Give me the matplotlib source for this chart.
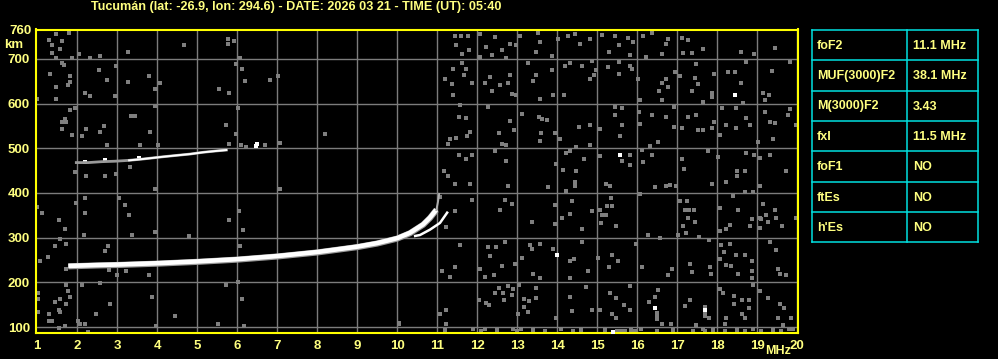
import matplotlib
matplotlib.use("Agg")
import matplotlib.pyplot as plt

TXT = "#ffff80"
FRAME = "#ffff00"
CYAN = "#00e0e0"
GRID = "#7c7c7c"
plt.rcParams['font.family'] = ['Liberation Sans', 'DejaVu Sans']

title = "Tucumán (lat: -26.9, lon: 294.6) - DATE: 2026 03 21 - TIME (UT): 05:40"

# ordinary (O) trace of the F2 layer, MHz / km
o_mhz = [1.78, 2.5, 3.0, 4.0, 5.0, 6.0, 7.0, 8.0, 9.0, 9.5, 10.0, 10.32, 10.65, 10.82, 10.98]
o_km = [236, 238, 239, 242, 246, 251, 258, 267, 279, 287, 298, 310, 329, 344, 362]
o_tail_mhz = [10.98, 11.02, 11.05]
o_tail_km = [362, 380, 398]
# extraordinary (X) branch
x_mhz = [10.45, 10.57, 10.82, 11.07, 11.25]
x_km = [304, 306, 318, 333, 356]
# second hop echo
h2_mhz = [1.98, 2.28, 2.61, 2.94, 3.3, 3.65, 4.15, 4.48, 4.82, 5.15, 5.48, 5.73]
h2_km = [468, 468, 470, 471, 473, 476, 481, 484, 487, 491, 494, 496]

# scattered interference dots (MHz, km)
noise_pts = [
    (11.44, 752), (11.6, 752), (11.77, 752), (12.08, 756), (12.44, 749), (11.48, 730),
    (11.63, 711), (11.8, 719), (12.08, 704), (12.23, 726), (12.38, 709), (12.63, 720),
    (12.83, 734), (12.98, 731), (12.73, 702), (13.08, 752), (13.53, 758), (13.58, 737),
    (13.48, 715), (13.86, 707), (14.03, 745), (14.28, 752), (14.44, 756), (14.58, 734),
    (14.83, 745), (15.13, 754), (15.44, 752), (15.54, 730), (15.29, 716), (15.78, 747),
    (15.9, 737), (15.83, 709), (16.15, 752), (16.38, 758), (16.78, 745), (16.73, 734),
    (16.63, 711), (16.23, 704), (17.13, 746), (17.28, 741), (17.15, 713), (17.38, 713),
    (17.65, 721), (18.6, 716), (18.93, 711), (19.44, 725),
    (11.63, 690), (11.4, 678), (11.19, 655), (11.36, 644), (11.68, 663), (11.87, 646),
    (11.4, 620), (11.73, 678), (12.19, 646), (12.33, 659), (12.38, 629), (12.58, 642),
    (12.78, 646), (12.83, 664), (12.88, 622), (12.98, 620), (13.28, 690), (13.48, 664),
    (13.4, 651), (13.57, 610), (13.88, 674), (13.9, 620), (14.17, 620), (14.19, 684),
    (14.33, 690), (14.63, 685), (14.88, 696), (14.98, 674), (14.83, 655), (14.92, 664),
    (15.28, 681), (15.55, 693), (15.82, 685), (15.88, 678), (15.55, 665), (16.03, 654),
    (16.08, 607), (16.63, 646), (16.73, 655), (16.78, 637), (16.55, 629), (16.63, 607),
    (16.94, 670), (17.07, 661), (17.45, 657), (17.48, 689), (17.53, 644), (17.38, 629),
    (17.65, 604), (17.88, 624), (17.88, 614), (17.93, 665), (18.28, 670), (18.44, 670),
    (18.59, 646), (18.65, 602), (18.72, 693), (19.15, 624), (19.19, 607), (19.29, 620),
    (19.38, 672), (19.83, 693),
    (11.58, 597), (11.54, 569), (11.73, 567), (11.32, 521), (11.48, 522), (11.83, 536),
    (11.75, 527), (11.28, 510), (12.28, 593), (12.83, 562), (12.55, 534), (12.63, 510),
    (12.73, 508), (12.93, 540), (13.13, 576), (13.55, 571), (13.63, 566), (13.75, 564),
    (13.6, 534), (13.94, 534), (13.57, 517), (14.08, 521), (14.48, 502), (14.54, 548),
    (14.83, 552), (14.83, 507), (15.08, 543), (15.44, 593), (15.63, 591), (15.63, 551),
    (15.44, 575), (15.58, 528), (16.05, 580), (16.38, 575), (16.07, 554), (16.71, 571),
    (16.93, 593), (16.93, 548), (16.53, 513), (16.33, 504), (17.13, 545), (17.28, 571),
    (17.48, 574), (17.53, 540), (17.65, 540), (17.88, 545), (17.93, 558), (18.12, 591),
    (18.08, 530), (18.23, 552), (18.48, 546), (18.48, 591), (18.72, 567), (18.83, 552),
    (19.19, 581), (19.33, 558), (19.4, 521), (19.03, 515), (19.45, 556), (19.83, 587),
    (19.78, 574), (19.97, 552),
    (11.54, 484), (11.73, 476), (11.87, 485), (12.44, 494), (12.73, 472), (13.98, 465),
    (14.23, 490), (14.33, 494), (14.68, 476), (14.48, 450), (14.15, 452), (15.07, 482),
    (15.63, 472), (15.82, 484), (15.82, 463), (16.15, 470), (16.37, 484), (16.13, 495),
    (17.11, 476), (17.17, 453), (17.77, 494), (18.03, 481), (18.73, 490), (18.93, 485),
    (19.08, 478), (19.33, 485), (19.73, 450), (18.5, 450), (18.7, 450), (18.5, 437),
    (11.27, 437), (11.18, 450),
    (11.44, 420), (11.83, 420), (12.78, 416), (13.78, 413), (14.44, 425), (14.44, 416),
    (14.23, 405), (15.23, 420), (15.33, 416), (16.44, 413), (16.73, 416), (16.83, 418),
    (16.97, 416), (17.88, 420), (18.23, 424), (18.69, 403), (18.9, 403), (19.08, 416),
    (11.08, 390), (11.88, 385), (11.44, 359), (11.23, 324), (12.58, 363), (12.69, 385),
    (12.88, 376), (13.38, 336), (13.94, 373), (13.94, 331), (14.38, 381), (14.33, 353),
    (14.13, 344), (14.63, 319), (14.88, 359), (15.08, 363), (15.11, 351), (15.25, 372),
    (15.36, 372), (15.34, 388), (15.23, 350), (15.09, 333), (15.48, 327), (16.07, 398),
    (16.28, 305), (16.58, 299), (17.08, 381), (17.25, 383), (17.19, 363), (17.3, 363),
    (17.42, 363), (17.28, 344), (17.45, 336), (17.15, 326), (17.23, 311), (17.03, 305),
    (17.55, 301), (17.8, 296), (18.08, 366), (18.08, 314), (18.23, 319), (18.33, 329),
    (18.53, 363), (18.4, 393), (18.86, 341), (18.82, 326), (19.07, 321), (19.15, 376),
    (19.23, 350), (19.28, 336), (19.44, 363), (19.48, 344), (19.63, 327), (19.97, 344),
    (19.08, 345), (19.1, 341),
    (11.58, 283), (11.44, 235), (11.33, 213), (11.13, 225), (12.28, 279), (12.48, 279),
    (12.69, 290), (12.31, 259), (12.63, 237), (12.42, 216), (12.19, 213), (12.08, 230),
    (12.94, 242), (13.33, 283), (13.36, 274), (13.13, 255), (13.57, 287), (13.4, 220),
    (13.57, 209), (13.9, 274), (14.41, 252), (14.31, 247), (14.31, 210), (14.78, 225),
    (14.63, 290), (15.03, 255), (15.3, 235), (15.38, 261), (15.53, 247), (15.97, 287),
    (16.13, 235), (16.78, 216), (16.87, 231), (17.33, 242), (17.38, 224), (17.83, 235),
    (17.85, 220), (18.1, 283), (18.16, 268), (18.33, 287), (18.08, 252), (18.22, 238),
    (18.34, 237), (18.48, 261), (18.69, 261), (18.53, 220), (18.88, 247), (18.88, 225),
    (18.88, 209), (19.31, 290), (19.46, 272), (19.52, 230), (19.56, 220), (19.71, 216),
    (11.07, 129), (11.21, 139), (11.23, 107), (12.05, 161), (12.23, 153), (12.3, 150),
    (12.44, 176), (12.55, 187), (12.65, 176), (12.67, 161), (12.77, 191), (12.88, 172),
    (12.9, 185), (13.05, 194), (13.03, 129), (13.18, 164), (13.18, 146), (13.29, 158),
    (13.27, 134), (13.48, 165), (13.48, 187), (13.98, 120), (14.33, 168), (14.38, 136),
    (14.73, 190), (14.88, 139), (15.08, 139), (15.33, 176), (15.48, 166), (15.48, 120),
    (15.68, 150), (15.83, 193), (15.83, 139), (15.38, 129), (16.5, 131), (16.5, 125),
    (16.5, 119), (16.52, 183), (16.44, 168), (16.3, 157), (16.63, 107), (16.85, 107),
    (17.19, 148), (17.33, 161), (17.69, 146), (17.69, 130), (17.69, 124), (17.48, 106),
    (17.8, 120), (18.07, 185), (18.15, 176), (18.22, 120), (18.2, 107), (18.43, 170),
    (18.43, 151), (18.61, 161), (18.61, 129), (18.8, 161), (18.8, 142), (18.69, 120),
    (18.9, 194), (19.08, 181), (19.27, 166), (19.58, 151), (19.68, 144), (19.52, 120),
    (19.65, 106), (19.85, 120),
    (11.2, 93), (11.9, 95), (12.1, 92), (12.2, 97), (12.5, 93), (12.9, 95), (13.0, 92),
    (13.1, 97), (13.4, 93), (13.7, 92), (14.1, 95), (14.4, 92), (14.6, 94), (15.2, 93),
    (15.5, 91), (15.6, 92), (15.7, 91), (15.85, 93), (15.95, 91), (16.1, 95), (16.5, 92),
    (16.9, 94), (17.4, 92), (17.65, 97), (17.7, 91), (17.9, 93), (18.2, 92), (18.5, 94),
    (18.7, 92), (18.9, 95), (19.1, 92), (19.4, 94), (19.6, 91), (19.8, 95), (19.9, 97),
    (1.48, 756), (1.79, 758), (1.29, 743), (1.38, 730), (1.63, 739), (1.58, 721),
    (1.38, 713), (1.48, 701), (1.88, 701), (2.04, 711), (2.32, 702), (2.58, 707),
    (3.28, 716), (4.68, 731), (5.78, 744), (5.78, 734), (5.93, 739), (6.08, 701),
    (1.61, 690), (1.68, 687), (1.33, 665), (1.83, 661), (1.83, 648), (1.78, 641),
    (1.48, 637), (1.48, 611), (1.0, 611), (2.19, 624), (2.33, 616), (2.54, 674),
    (2.74, 652), (2.94, 616), (2.98, 685), (3.28, 648), (3.79, 661), (3.94, 633),
    (4.08, 647), (5.54, 633), (5.79, 624), (5.98, 689), (6.13, 678), (6.19, 650),
    (6.83, 652), (7.03, 661),
    (1.83, 585), (1.94, 589), (1.69, 565), (1.63, 558), (1.73, 558), (1.63, 544),
    (1.88, 530), (2.13, 527), (2.23, 544), (2.58, 536), (2.68, 550), (3.34, 572),
    (3.44, 572), (3.83, 536), (3.94, 594), (5.73, 553), (6.03, 589), (5.98, 531),
    (8.19, 531), (2.75, 507), (3.58, 507), (4.03, 507), (5.79, 510), (6.23, 503),
    (6.69, 507), (7.08, 512), (6.1, 508),
    (3.32, 458), (1.94, 447), (2.23, 438), (2.69, 438), (2.98, 443), (3.94, 408),
    (2.19, 388), (2.19, 356), (1.98, 378), (1.13, 356), (1.0, 368), (3.04, 388),
    (3.19, 373), (3.29, 351), (1.55, 339), (1.69, 320), (1.58, 298), (1.44, 282),
    (1.73, 285), (1.28, 256), (1.07, 249), (1.73, 230), (2.69, 271), (2.76, 282),
    (2.18, 307), (3.94, 312), (3.36, 307), (4.79, 304), (5.8, 339), (6.04, 360),
    (6.15, 317), (6.08, 282), (7.08, 408), (3.8, 216), (3.23, 225), (3.0, 216), (2.8, 227),
    (1.73, 194), (2.13, 194), (2.58, 199), (1.03, 177), (1.03, 162), (1.58, 162),
    (1.78, 181), (1.83, 168), (1.44, 157), (1.73, 152), (1.55, 139), (1.58, 135),
    (1.03, 135), (1.29, 130), (1.29, 113), (1.38, 113), (1.69, 103), (1.54, 98),
    (2.03, 113), (2.08, 107), (2.19, 107), (2.48, 130), (2.83, 152), (2.28, 90),
    (3.88, 168), (4.44, 125), (3.98, 103), (5.73, 194), (6.02, 202), (6.13, 162),
    (6.18, 103), (5.53, 107), (10.05, 110), (10.05, 107),
]
bright_pts = [(18.44, 619), (15.58, 485), (14.0, 261), (16.44, 142), (17.69, 138),
              (6.47, 505), (6.49, 509), (15.4, 90), (2.2, 470), (2.7, 473), (3.55, 478)]

freq_ticks = list(range(1, 21))
km_ticks = [100, 200, 300, 400, 500, 600, 700]

table_rows = ["foF2", "MUF(3000)F2", "M(3000)F2", "fxI", "foF1", "ftEs", "h'Es"]
table_vals = ["11.1 MHz", "38.1 MHz", "3.43", "11.5 MHz", "NO", "NO", "NO"]

W, H = 998, 359
fig = plt.figure(figsize=(W / 100, H / 100), dpi=100, facecolor="black")

# ionogram panel
ax = fig.add_axes([35.5 / W, 1 - 333 / H, (798 - 35.5) / W, (333 - 29.5) / H])
ax.set_facecolor("black")
ax.set_xlim(0.96, 20.02)
ax.set_ylim(87, 765.5)
for f in freq_ticks[1:]:
    ax.axvline(f, color=GRID, lw=1.0, zorder=1)
for k in km_ticks:
    ax.axhline(k, color=GRID, lw=1.0, zorder=1)

nx = [p[0] for p in noise_pts]
ny = [p[1] for p in noise_pts]
ax.scatter(nx, ny, s=5.5, marker="s", c="#7f7f7f", linewidths=0, zorder=2)
bx = [p[0] for p in bright_pts]
by = [p[1] for p in bright_pts]
ax.scatter(bx, by, s=5, marker="s", c="white", linewidths=0, zorder=3)

# echo traces
ax.plot(o_mhz, o_km, color="#9a9a9a", lw=4.4, solid_capstyle="butt", zorder=3)
ax.plot(o_mhz, [v + 1 for v in o_km], color="white", lw=3.3, solid_capstyle="butt", zorder=4)
ax.plot(o_tail_mhz, o_tail_km, color="#b0b0b0", lw=1.4, zorder=4)
ax.plot(x_mhz, x_km, color="white", lw=1.8, zorder=4)
ax.plot(h2_mhz, h2_km, color="#9a9a9a", lw=2.0, zorder=3)
ax.plot(h2_mhz[4:], h2_km[4:], color="white", lw=1.4, zorder=4)

for s in ax.spines.values():
    s.set_color(FRAME)
    s.set_linewidth(1.5)
ax.set_xticks(freq_ticks)
ax.set_yticks(km_ticks)
ax.tick_params(length=0, colors=TXT, labelsize=9.5, pad=5)
ax.set_xticklabels([str(f) for f in freq_ticks], fontweight="bold", color=TXT)
ax.set_yticklabels([str(k) for k in km_ticks], fontweight="bold", color=TXT)
ax.tick_params(axis="y", pad=4)

fig.text(31.5 / W, 1 - 30.5 / H, "760", ha="right", va="center", color=TXT,
         fontsize=9.5, fontweight="bold")
fig.text(4 / W, 1 - 45 / H, "km", ha="left", va="center", color=TXT,
         fontsize=9.5, fontweight="bold")
fig.text(778 / W, 1 - 351.5 / H, "MHz", ha="center", va="center", color=TXT,
         fontsize=9, fontweight="bold")
fig.text(91 / W, 1 - 7 / H, title, ha="left", va="center", color=TXT,
         fontsize=9.1, fontweight="bold")

# parameter table
tab = fig.add_axes([812 / W, 1 - 242.5 / H, (977.5 - 812) / W, (242.5 - 30) / H])
tab.set_facecolor("black")
tab.set_xlim(0, 1)
tab.set_ylim(len(table_rows), 0)
tab.axis("off")
split = (907.3 - 812) / 165.5
for i in range(len(table_rows) + 1):
    tab.plot([0, 1], [i, i], color=CYAN, lw=1.1, clip_on=False)
for xv in [0, split, 1]:
    tab.plot([xv, xv], [0, len(table_rows)], color=CYAN, lw=1.1, clip_on=False)
for i, (name, val) in enumerate(zip(table_rows, table_vals)):
    tab.text(0.03, i + 0.52, name, ha="left", va="center", color=TXT,
             fontsize=9, fontweight="bold")
    tab.text(split + 0.035, i + 0.52, val, ha="left", va="center", color=TXT,
             fontsize=9, fontweight="bold")

fig.savefig("out.png", dpi=100, facecolor="black")
